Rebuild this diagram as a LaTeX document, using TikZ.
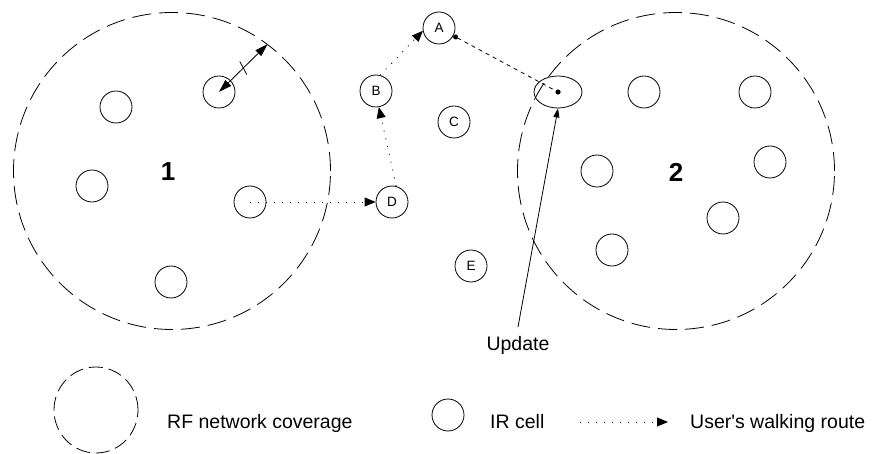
\documentclass[tikz,border=0pt]{standalone}
\usepackage{fontspec}
\newfontfamily\lblfont{Liberation Sans}
\usetikzlibrary{arrows.meta,shapes.geometric,calc}

\begin{document}
\begin{tikzpicture}[x=1pt,y=-1pt,
  every node/.style={font=\lblfont},
  thin line/.style={line width=0.8pt},
  coverage/.style={draw, circle, thin line, dash pattern=on 19pt off 8pt, minimum size=317pt, inner sep=0pt},
  cell/.style={draw, circle, thin line, minimum size=32pt, inner sep=0pt, font=\lblfont\fontsize{13.5}{14}\selectfont},
  region/.style={font=\lblfont\bfseries\fontsize{26}{28}\selectfont, inner sep=0pt},
  lbl/.style={font=\lblfont\fontsize{19.5}{22}\selectfont, inner sep=0pt},
  route/.style={thin line, dash pattern=on 1pt off 7pt, -{Triangle[length=11pt,width=9pt]}},
  handover/.style={thin line, dash pattern=on 4pt off 4pt},
]
\useasboundingbox (0,0) rectangle (873,454);

% RF coverage areas
\node[coverage] (cov1) at (172,171) {};
\node[coverage] (cov2) at (676,171) {};
\node[region] (n1) at (168,172) {1};
\node[region] (n2) at (676,172) {2};

% IR cells inside area 1
\node[cell] (c11) at (116,107) {};
\node[cell] (c12) at (219,92) {};
\node[cell] (c13) at (92,186) {};
\node[cell] (c14) at (250,202) {};
\node[cell] (c15) at (171,282) {};

% IR cells inside area 2
\node[cell] (c21) at (644,92) {};
\node[cell] (c22) at (755,92) {};
\node[cell] (c23) at (597,171) {};
\node[cell] (c24) at (770,162) {};
\node[cell] (c25) at (723,218) {};
\node[cell] (c26) at (612,250) {};

% IR cells between the areas
\node[cell] (A) at (439,28) {A};
\node[cell] (B) at (376,91) {B};
\node[cell] (C) at (454,122) {C};
\node[cell] (D) at (392,202) {D};
\node[cell] (E) at (471,266) {E};

% distance from a cell to the edge of the RF area
\draw[thin line, {Triangle[length=13pt,width=8pt]}-{Triangle[length=13pt,width=8pt]}]
  (c12.center) -- coordinate[pos=0.5] (tk) (cov1.53.5);
\draw[thin line] ($(tk)+(-3.5,-6.5)$) -- ($(tk)+(3.5,6.5)$);

% walking route
\draw[route] (c14.center) -- (D);
\draw[route] (D.75) -- (B.-80);
\draw[route] (B.75) -- (A.190);

% location update
\node[draw, ellipse, thin line, minimum width=48pt, minimum height=32pt, inner sep=0pt] (upd) at (558,92) {};
\draw[handover, {Circle[length=5pt]}-] (A) -- (upd.center);
\fill (upd.center) circle (2.6pt);
\node[lbl, anchor=north, inner ysep=9.5pt] (updtxt) at (518,327) {Update};
\draw[thin line, -{Triangle[length=9pt,width=6pt]}] (updtxt.north) -- (upd.south);

% legend
\node[draw, ellipse, thin line, dash pattern=on 14pt off 6pt, minimum width=84pt, minimum height=86pt, inner sep=0pt] (lrf) at (96,410) {};
\node[lbl, anchor=base west] (lrftxt) at (167,428) {RF network coverage};
\node[cell] (lir) at (448,415) {};
\node[lbl, anchor=base west] (lirtxt) at (490,428) {IR cell};
\coordinate (lrs) at (580,422);
\coordinate (lre) at (668,422);
\draw[route] (lrs) -- (lre);
\node[lbl, anchor=base west] (lrttxt) at (690,428) {User's walking route};
\end{tikzpicture}
\end{document}
